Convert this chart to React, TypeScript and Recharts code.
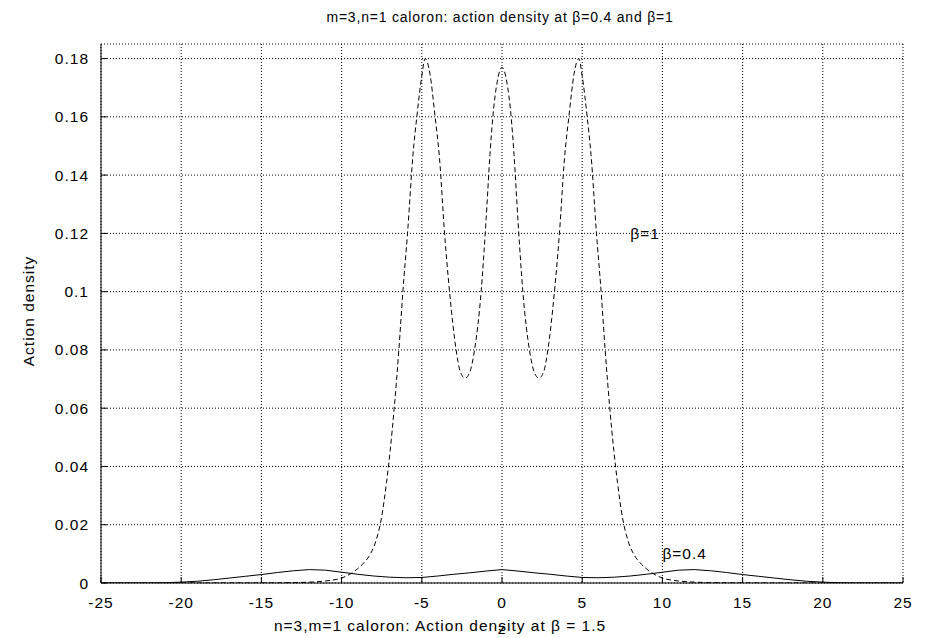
import { LineChart, Line, XAxis, YAxis, CartesianGrid, ReferenceDot } from "recharts";

// axis ticks
const xTicks = [-25, -20, -15, -10, -5, 0, 5, 10, 15, 20, 25];
const yTicks = [0, 0.02, 0.04, 0.06, 0.08, 0.1, 0.12, 0.14, 0.16, 0.18];

// beta = 1 (dashed)
const beta1X = [
  -25, -20, -17, -14, -12, -11, -10, -9.4, -9, -8.6, -8.2, -7.84, -7.5, -7.2, -6.97, -6.72, -6.43, -6.18,
  -5.89, -5.55, -5.31, -5.0, -4.79, -4.5, -4.17, -3.9, -3.58, -3.27, -2.86, -2.6, -2.3, -2.0, -1.71, -1.3,
  -1.0, -0.75, -0.57, -0.3, 0, 0.3, 0.57, 0.75, 1.0, 1.3, 1.71, 2.0, 2.3, 2.6, 2.86, 3.27, 3.58, 3.9, 4.17,
  4.5, 4.79, 5.0, 5.31, 5.55, 5.89, 6.18, 6.43, 6.72, 6.97, 7.2, 7.5, 7.84, 8.2, 8.6, 9, 9.4, 10, 11, 12, 14,
  17, 20, 25,
];
const beta1Y = [
  0, 0, 0.00002, 0.00008, 0.0003, 0.0007, 0.0017, 0.0033, 0.0049, 0.0070, 0.0100, 0.0148, 0.0228, 0.0345,
  0.0455, 0.06, 0.08, 0.1, 0.12, 0.147, 0.16, 0.174, 0.18, 0.175, 0.16, 0.146, 0.12, 0.1, 0.08, 0.0725,
  0.0703, 0.0725, 0.08, 0.1, 0.124, 0.147, 0.16, 0.172, 0.177, 0.172, 0.16, 0.147, 0.124, 0.1, 0.08,
  0.0725, 0.0703, 0.0725, 0.08, 0.1, 0.12, 0.146, 0.16, 0.175, 0.18, 0.174, 0.16, 0.147, 0.12, 0.1, 0.08,
  0.06, 0.0455, 0.0345, 0.0228, 0.0148, 0.0100, 0.0070, 0.0049, 0.0033, 0.0017, 0.0007, 0.0003, 0.00008,
  0.00002, 0, 0,
];

// beta = 0.4 (solid)
const beta04X = [
  -25, -22, -21, -20, -19, -18, -17, -16, -15, -14, -13, -12, -11, -10, -9, -8, -7, -6, -5, -4, -3, -2, -1,
  0, 1, 2, 3, 4, 5, 6, 7, 8, 9, 10, 11, 12, 13, 14, 15, 16, 17, 18, 19, 20, 21, 22, 25,
];
const beta04Y = [
  0, 0, 0.0001, 0.0003, 0.0006, 0.0011, 0.0017, 0.0023, 0.0029, 0.0036, 0.0042, 0.0046, 0.0044, 0.0037,
  0.003, 0.0024, 0.002, 0.0018, 0.0019, 0.0024, 0.003, 0.0035, 0.0041, 0.0046, 0.0041, 0.0035, 0.003,
  0.0024, 0.0019, 0.0018, 0.002, 0.0024, 0.003, 0.0037, 0.0044, 0.0046, 0.0042, 0.0036, 0.0029, 0.0023,
  0.0017, 0.0011, 0.0006, 0.0003, 0.0001, 0, 0,
];

const beta1Data = beta1X.map((x, i) => ({ x, y: beta1Y[i] }));
const beta04Data = beta04X.map((x, i) => ({ x, y: beta04Y[i] }));

const FONT = "'Liberation Sans', Arial, sans-serif";
const FS = 15.5;
const TIC = 6; // inward tick length
const X_GAP = 14;
const Y_GAP = 12;
const BORDER = { stroke: "#000", strokeWidth: 1 };

const fmtY = (v: number) => String(Number(v.toFixed(2)));

// gnuplot style: tick marks point into the plot
const BottomTick = (p: any) => (
  <g>
    <line x1={p.x} x2={p.x} y1={p.y - X_GAP} y2={p.y - X_GAP - TIC} stroke="#000" />
    <text x={p.x} y={p.y} dy="0.71em" textAnchor="middle" fontSize={FS} fill="#000">
      {p.payload.value}
    </text>
  </g>
);
const LeftTick = (p: any) => (
  <g>
    <line x1={p.x + Y_GAP} x2={p.x + Y_GAP + TIC} y1={p.y} y2={p.y} stroke="#000" />
    <text x={p.x} y={p.y} dy="0.355em" textAnchor="end" fontSize={FS} fill="#000">
      {fmtY(p.payload.value)}
    </text>
  </g>
);
const TopTick = (p: any) => <line x1={p.x} x2={p.x} y1={p.y} y2={p.y + TIC} stroke="#000" />;
const RightTick = (p: any) => <line x1={p.x} x2={p.x - TIC} y1={p.y} y2={p.y} stroke="#000" />;

export default function App() {
  return (
    <div
      style={{
        position: "absolute",
        left: 0,
        top: 0,
        width: 934,
        height: 638,
        background: "#fff",
        fontFamily: FONT,
        letterSpacing: 1,
        color: "#000",
      }}
    >
      <div
        style={{
          position: "absolute",
          left: 0,
          width: 1000,
          top: 9,
          textAlign: "center",
          fontSize: 14,
          letterSpacing: 0.8,
          whiteSpace: "nowrap",
        }}
      >
        m=3,n=1 caloron: action density at β=0.4 and β=1
      </div>
      <div
        style={{
          position: "absolute",
          left: 29,
          top: 311,
          fontSize: FS,
          whiteSpace: "nowrap",
          transform: "translate(-50%, -50%) rotate(-90deg)",
        }}
      >
        Action density
      </div>
      <div
        style={{
          position: "absolute",
          left: 440,
          top: 626,
          fontSize: FS,
          whiteSpace: "nowrap",
          transform: "translate(-50%, -50%)",
        }}
      >
        n=3,m=1 caloron: Action density at β = 1.5
      </div>
      <div
        style={{
          position: "absolute",
          left: 502,
          top: 629,
          fontSize: FS,
          transform: "translate(-50%, -50%)",
        }}
      >
        z
      </div>
      <LineChart width={934} height={638} margin={{ top: 44, right: 31, bottom: 0, left: 0 }}>
        <CartesianGrid stroke="#000" strokeDasharray="1 2" />
        <XAxis
          dataKey="x"
          type="number"
          domain={[-25, 25]}
          ticks={xTicks}
          interval={0}
          allowDataOverflow
          height={55}
          tickSize={0}
          tickMargin={X_GAP}
          axisLine={BORDER}
          tickLine={false}
          tick={BottomTick}
        />
        <XAxis
          xAxisId="top"
          orientation="top"
          type="number"
          domain={[-25, 25]}
          ticks={xTicks}
          interval={0}
          allowDataOverflow
          height={0}
          tickSize={0}
          tickMargin={0}
          axisLine={BORDER}
          tickLine={false}
          tick={TopTick}
        />
        <YAxis
          type="number"
          domain={[0, 0.185]}
          ticks={yTicks}
          interval={0}
          allowDataOverflow
          width={101}
          tickSize={0}
          tickMargin={Y_GAP}
          axisLine={BORDER}
          tickLine={false}
          tick={LeftTick}
        />
        <YAxis
          yAxisId="right"
          orientation="right"
          type="number"
          domain={[0, 0.185]}
          ticks={yTicks}
          interval={0}
          allowDataOverflow
          width={0}
          tickSize={0}
          tickMargin={0}
          axisLine={BORDER}
          tickLine={false}
          tick={RightTick}
        />
        <Line
          data={beta04Data}
          dataKey="y"
          type="linear"
          stroke="#000"
          strokeWidth={1}
          dot={false}
          activeDot={false}
          isAnimationActive={false}
        />
        <Line
          data={beta1Data}
          dataKey="y"
          type="monotone"
          stroke="#000"
          strokeWidth={1}
          strokeDasharray="5 3"
          dot={false}
          activeDot={false}
          isAnimationActive={false}
        />
        <ReferenceDot
          x={8}
          y={0.12}
          r={0}
          fill="none"
          stroke="none"
          label={{ value: "β=1", position: "right", offset: 0, fill: "#000", fontSize: FS }}
        />
        <ReferenceDot
          x={10}
          y={0.01}
          r={0}
          fill="none"
          stroke="none"
          label={{ value: "β=0.4", position: "right", offset: 0, fill: "#000", fontSize: FS }}
        />
      </LineChart>
    </div>
  );
}
